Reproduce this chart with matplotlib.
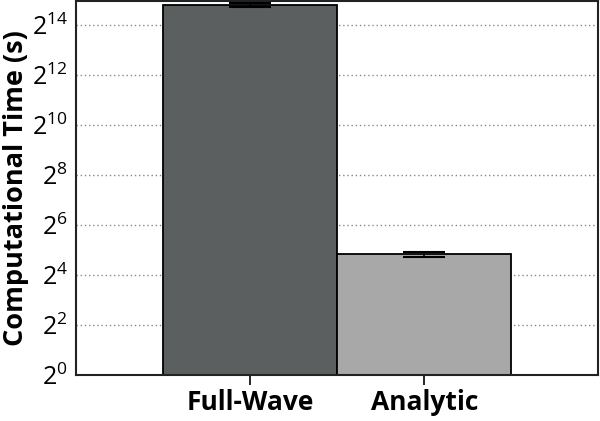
import numpy as np
import matplotlib
matplotlib.use('Agg')
import matplotlib.pyplot as plt
from matplotlib.ticker import FixedLocator, FuncFormatter

# data (seconds)
methods = ['Full-Wave', 'Analytic']
times = [28500, 28.4]
errors = [1500, 2.0]
bar_colors = ['#5b5f60', '#a8a8a8']
y_powers = [0, 2, 4, 6, 8, 10, 12, 14]

plt.rcParams['font.family'] = ['Open Sans', 'DejaVu Sans']
plt.rcParams['mathtext.fontset'] = 'custom'
plt.rcParams['mathtext.rm'] = 'Open Sans'
plt.rcParams['mathtext.it'] = 'Open Sans'
plt.rcParams['mathtext.default'] = 'regular'

fig = plt.figure(figsize=(6, 4.21), dpi=100)
ax = fig.add_axes([0.127, 0.109, 0.870, 0.889])

x = np.arange(len(methods))
ax.bar(x, times, width=1.0, color=bar_colors, edgecolor='black', linewidth=1.3, zorder=2)
ax.errorbar(x, times, yerr=errors, fmt='none', ecolor='black', elinewidth=1.2,
            capsize=15, capthick=1.5, zorder=3)

ax.set_yscale('log', base=2)
ax.set_ylim(1, 2 ** 14.96)
ax.set_xlim(-1, 2)

ax.yaxis.set_major_locator(FixedLocator([2 ** p for p in y_powers]))
ax.yaxis.set_minor_locator(FixedLocator([]))
ax.yaxis.set_major_formatter(FuncFormatter(lambda v, pos: r'$2^{%d}$' % round(np.log2(v))))
for p in y_powers[1:]:
    ax.axhline(2 ** p, color='#888888', linestyle=(0, (1, 2)), linewidth=1.0, zorder=1)

ax.set_xticks(x)
ax.set_xticklabels(methods, fontsize=19, fontweight='bold')
ax.tick_params(axis='x', direction='out', length=7, width=1.2, pad=3)
ax.tick_params(axis='y', length=0, labelsize=18, pad=6)
ax.set_ylabel('Computational Time (s)', fontsize=19.5, fontweight='bold', labelpad=2)

for s in ax.spines.values():
    s.set_linewidth(1.5)
    s.set_color('#222222')

fig.savefig('out.png', dpi=100)
